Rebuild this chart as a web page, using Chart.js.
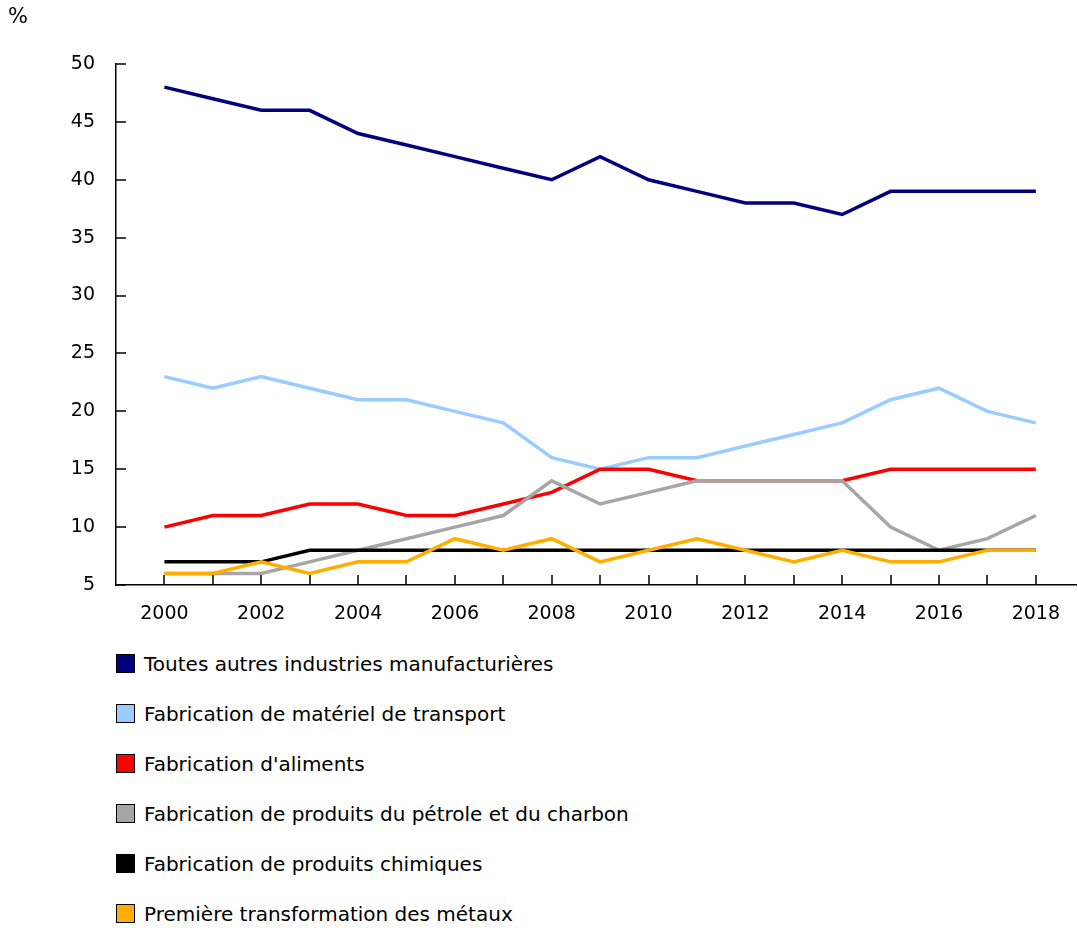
<!DOCTYPE html>
<html>
<head>
<meta charset="utf-8">
<script src="https://cdn.jsdelivr.net/npm/chart.js@4"></script>
<style>
  body { margin: 0; background: #fff; font-family: "DejaVu Sans", Verdana, sans-serif; }
  #wrap { position: relative; width: 1078px; height: 635px; }
  #legend { list-style: none; margin: 0; padding: 0; position: absolute; left: 116px; top: 652px; }
  #legend li { height: 50px; font-size: 20px; color: #000; display: flex; align-items: flex-start; }
  #legend span.box { display: inline-block; width: 17px; height: 17px; border: 1.5px solid #000; margin-right: 9px; margin-top: 2px; }
</style>
</head>
<body>
<div id="wrap"><canvas id="myChart" width="1078" height="635"></canvas></div>
<ul id="legend"></ul>
<script>
// donnees du graphique
var annees = [2000,2001,2002,2003,2004,2005,2006,2007,2008,2009,2010,2011,2012,2013,2014,2015,2016,2017,2018];
var yTicks = [5,10,15,20,25,30,35,40,45,50];
var noms = ['Toutes autres industries manufacturières','Fabrication de matériel de transport',"Fabrication d'aliments",'Fabrication de produits du pétrole et du charbon','Fabrication de produits chimiques','Première transformation des métaux'];
var couleurs = ['#000080','#99CCFF','#FF0000','#A6A6A6','#000000','#FFAE00'];
var autres    = [48,47,46,46,44,43,42,41,40,42,40,39,38,38,37,39,39,39,39];
var transport = [23,22,23,22,21,21,20,19,16,15,16,16,17,18,19,21,22,20,19];
var aliments  = [10,11,11,12,12,11,11,12,13,15,15,14,14,14,14,15,15,15,15];
var petrole   = [6,6,6,7,8,9,10,11,14,12,13,14,14,14,14,10,8,9,11];
var chimiques = [7,7,7,8,8,8,8,8,8,8,8,8,8,8,8,8,8,8,8];
var metaux    = [6,6,7,6,7,7,9,8,9,7,8,9,8,7,8,7,7,8,8];
var series = [autres, transport, aliments, petrole, chimiques, metaux];

var police = '"DejaVu Sans", Verdana, sans-serif';

// marques de graduation vers l'interieur + symbole %
var graduations = {
  id: 'graduations',
  afterDraw: function(chart){
    var c = chart.ctx, x = chart.scales.x, y = chart.scales.y, a = chart.chartArea;
    c.save();
    c.strokeStyle = '#000';
    c.lineWidth = 1.5;
    c.beginPath();
    yTicks.forEach(function(v){
      var py = Math.round(y.getPixelForValue(v));
      c.moveTo(a.left, py); c.lineTo(a.left + 10, py);
    });
    annees.forEach(function(an){
      var px = Math.round(x.getPixelForValue(an));
      c.moveTo(px, a.bottom); c.lineTo(px, a.bottom - 10);
    });
    c.stroke();
    c.fillStyle = '#000';
    c.font = '21px ' + police;
    c.textBaseline = 'top';
    c.fillText('%', 8, 7);
    c.restore();
  }
};

var datasets = [];
for (var i = 0; i < series.length; i++) {
  datasets.push({
    label: noms[i],
    data: annees.map(function(an, j){ return {x: an, y: series[i][j]}; }),
    borderColor: couleurs[i],
    backgroundColor: couleurs[i],
    borderWidth: 3.5,
    pointRadius: 0,
    tension: 0,
    fill: false,
    order: series.length - i
  });
}

var ctx = document.getElementById('myChart').getContext('2d');
var myChart = new Chart(ctx, {
  type: 'line',
  data: { datasets: datasets },
  options: {
    responsive: false,
    animation: false,
    layout: { padding: { top: 64, right: 0, left: 0, bottom: 0 } },
    plugins: { legend: { display: false }, tooltip: { enabled: false } },
    scales: {
      x: {
        type: 'linear',
        min: 1999,
        max: 2018.85,
        afterBuildTicks: function(s){ s.ticks = annees.map(function(an){ return {value: an}; }); },
        afterFit: function(s){ s.height = 50; },
        ticks: {
          autoSkip: false,
          maxRotation: 0,
          color: '#000',
          padding: 18,
          font: { family: police, size: 19 },
          callback: function(v){ return v % 2 === 0 ? String(v) : ''; }
        },
        grid: { display: false, drawTicks: false },
        border: { display: true, color: '#000', width: 1.5 }
      },
      y: {
        min: 5,
        max: 50,
        afterBuildTicks: function(s){ s.ticks = yTicks.map(function(v){ return {value: v}; }); },
        afterFit: function(s){ s.width = 116; },
        ticks: {
          color: '#000',
          padding: 21,
          font: { family: police, size: 19 }
        },
        grid: { display: false, drawTicks: false },
        border: { display: true, color: '#000', width: 1.5 }
      }
    }
  },
  plugins: [graduations]
});

// legende verticale
var ul = document.getElementById('legend');
noms.forEach(function(n, i){
  var li = document.createElement('li');
  var b = document.createElement('span');
  b.className = 'box';
  b.style.background = couleurs[i];
  li.appendChild(b);
  li.appendChild(document.createTextNode(n));
  ul.appendChild(li);
});
</script>
</body>
</html>
